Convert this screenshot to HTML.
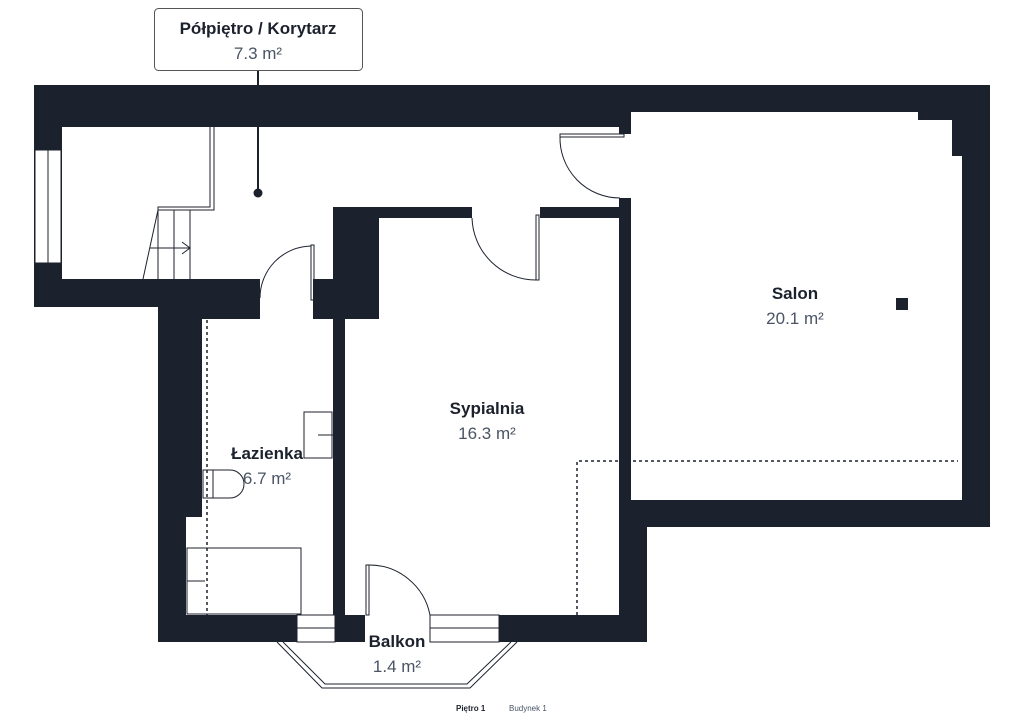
<!DOCTYPE html>
<html><head><meta charset="utf-8"><style>
body{margin:0;background:#fff;width:1024px;height:724px;overflow:hidden}
svg{display:block}
text{font-family:"Liberation Sans",sans-serif}
</style></head><body>
<svg width="1024" height="724" viewBox="0 0 1024 724">
<g fill="#1c222d">
<rect x="34" y="85" width="956" height="42"/>
<rect x="962" y="85" width="28" height="442"/>
<rect x="34" y="85" width="28" height="222"/>
<rect x="34" y="279" width="226" height="28"/>
<rect x="158" y="279" width="102" height="40"/>
<rect x="158" y="279" width="44" height="238"/>
<rect x="158" y="500" width="28" height="142"/>
<rect x="158" y="615" width="139" height="27"/>
<rect x="313" y="279" width="66" height="40"/>
<rect x="333" y="207" width="46" height="112"/>
<rect x="333" y="207" width="12" height="435"/>
<rect x="333" y="615" width="32" height="27"/>
<rect x="333" y="207" width="139" height="11"/>
<rect x="540" y="207" width="91" height="11"/>
<rect x="619" y="112" width="12" height="22"/>
<rect x="619" y="198" width="12" height="329"/>
<rect x="619" y="500" width="371" height="27"/>
<rect x="619" y="500" width="28" height="142"/>
<rect x="499" y="615" width="148" height="27"/>
<rect x="952" y="112" width="10" height="44"/>
<rect x="896" y="298" width="12" height="12"/>
</g>
<!-- white bits -->
<rect x="631" y="112" width="287" height="16" fill="#fff"/>
<rect x="918" y="120" width="34" height="8" fill="#fff"/>
<rect x="35" y="150" width="26" height="113" fill="#fff" stroke="#1c222d" stroke-width="1"/>
<line x1="48" y1="150" x2="48" y2="263" stroke="#1c222d"/>
<rect x="619" y="134" width="12" height="64" fill="#fff"/>
<rect x="297" y="615" width="38" height="27" fill="#fff" stroke="#1c222d" stroke-width="1"/>
<line x1="297" y1="628" x2="335" y2="628" stroke="#1c222d"/>
<rect x="430" y="615" width="69" height="27" fill="#fff" stroke="#1c222d" stroke-width="1"/>
<line x1="430" y1="628" x2="499" y2="628" stroke="#1c222d"/>
<g fill="none" stroke="#1c222d" stroke-width="1">
<!-- stairs -->
<polyline points="210,127 210,207 158,207 158,279"/>
<polyline points="214,127 214,210 158,210"/>
<line x1="158" y1="210" x2="143" y2="279"/>
<line x1="174" y1="210" x2="174" y2="279"/>
<line x1="190" y1="210" x2="190" y2="279"/>
<line x1="150" y1="248" x2="190" y2="248"/>
<polyline points="182,242 190,248 182,254"/>
<!-- doors -->
<rect x="311" y="245" width="3" height="55"/>
<path d="M311,246 A52,52 0 0 0 260,298"/>
<rect x="560" y="134" width="64" height="3"/>
<path d="M560,136 A60,60 0 0 0 620,198"/>
<rect x="536" y="215" width="3" height="65"/>
<path d="M472,218 A64,64 0 0 0 536,280"/>
<rect x="366" y="565" width="3" height="50"/>
<path d="M368,565 A62,62 0 0 1 430,615"/>
<!-- bathroom fixtures -->
<rect x="187" y="548" width="114" height="66"/>
<line x1="187" y1="581" x2="205" y2="581"/>
<rect x="304" y="412" width="28" height="46"/>
<line x1="318" y1="435" x2="333" y2="435"/>
<path d="M203,470 H230 A14,14 0 0 1 230,498 H203 Z"/>
<line x1="213" y1="470" x2="213" y2="498"/>
<!-- balcony -->
<polyline points="277,642 322,688 470,688 517,642"/>
<polyline points="283,642 325,684 467,684 511,642"/>
</g>
<g stroke="#1c222d" stroke-width="1.5" stroke-dasharray="3,3" fill="none">
<line x1="207" y1="320" x2="207" y2="615"/>
<polyline points="577,615 577,461 958,461"/>
</g>
<!-- label callout -->
<line x1="258" y1="70" x2="258" y2="193" stroke="#1c222d" stroke-width="2"/>
<circle cx="258" cy="193" r="4.5" fill="#1c222d"/>
<rect x="154.5" y="8.5" width="208" height="62" rx="4" fill="#fff" stroke="#555" stroke-width="1"/>
<text x="258" y="34" text-anchor="middle" font-size="17" font-weight="bold" fill="#1c222d">Półpiętro / Korytarz</text>
<text x="258" y="59" text-anchor="middle" font-size="17" fill="#4a5464">7.3 m²</text>
<text x="795" y="299" text-anchor="middle" font-size="17" font-weight="bold" fill="#1c222d">Salon</text>
<text x="795" y="324" text-anchor="middle" font-size="17" fill="#4a5464">20.1 m²</text>
<text x="487" y="414" text-anchor="middle" font-size="17" font-weight="bold" fill="#1c222d">Sypialnia</text>
<text x="487" y="439" text-anchor="middle" font-size="17" fill="#4a5464">16.3 m²</text>
<text x="267" y="459" text-anchor="middle" font-size="17" font-weight="bold" fill="#1c222d">Łazienka</text>
<text x="267" y="484" text-anchor="middle" font-size="17" fill="#4a5464">6.7 m²</text>
<text x="397" y="647" text-anchor="middle" font-size="17" font-weight="bold" fill="#1c222d">Balkon</text>
<text x="397" y="672" text-anchor="middle" font-size="17" fill="#4a5464">1.4 m²</text>
<text x="456" y="711" font-size="8" font-weight="bold" fill="#1c222d">Piętro 1</text>
<text x="509" y="711" font-size="8" fill="#4a5464">Budynek 1</text>
</svg>
</body></html>
